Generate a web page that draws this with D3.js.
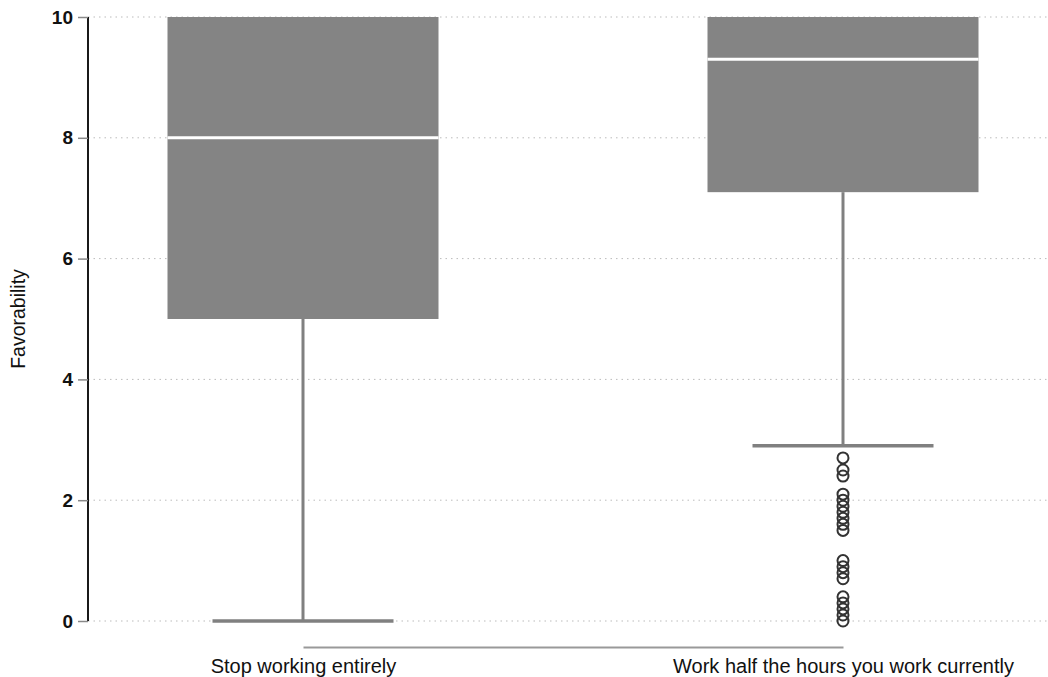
<!DOCTYPE html>
<html><head><meta charset="utf-8">
<script src="https://cdn.jsdelivr.net/npm/d3@7"></script>
<style>body{margin:0;background:#fff}svg{display:block}text{font-family:"Liberation Sans",Arial,sans-serif}</style>
</head><body>
<script>
const categories = ["Stop working entirely", "Work half the hours you work currently"];
const q1 = [5, 7.1];
const median = [8, 9.3];
const q3 = [10, 10];
const whiskerLow = [0, 2.9];
const whiskerHigh = [10, 10];
const outliers2 = [2.7, 2.5, 2.4, 2.1, 2.0, 1.9, 1.8, 1.7, 1.6, 1.5, 1.0, 0.9, 0.8, 0.7, 0.4, 0.3, 0.2, 0.1, 0.0];
const outliers = [[], outliers2];
const yTicks = [0, 2, 4, 6, 8, 10];

const W = 1048, H = 677;
const svg = d3.select("body").append("svg").attr("width", W).attr("height", H);
const y = d3.scaleLinear().domain([0, 10]).range([621, 17]);
const x = d3.scalePoint().domain(categories).range([303, 843]);
const boxW = 271, capW = 181;

// gridlines
svg.append("g").selectAll("line").data(yTicks).join("line")
  .attr("x1", 88).attr("x2", W).attr("y1", d => y(d)).attr("y2", d => y(d))
  .attr("stroke", "#bbb").attr("stroke-width", 1).attr("stroke-dasharray", "1.5,4");

const data = categories.map((c, i) => ({c, q1: q1[i], med: median[i], q3: q3[i], lo: whiskerLow[i], hi: whiskerHigh[i], out: outliers[i]}));
const g = svg.append("g").selectAll("g").data(data).join("g");
// whiskers
g.append("line").attr("x1", d => x(d.c)).attr("x2", d => x(d.c))
  .attr("y1", d => y(d.q1)).attr("y2", d => y(d.lo)).attr("stroke", "#808080").attr("stroke-width", 3);
g.append("line").attr("x1", d => x(d.c) - capW/2).attr("x2", d => x(d.c) + capW/2)
  .attr("y1", d => y(d.lo)).attr("y2", d => y(d.lo)).attr("stroke", "#808080").attr("stroke-width", 3.5);
// box
g.append("rect").attr("x", d => x(d.c) - boxW/2).attr("width", boxW)
  .attr("y", d => y(d.q3)).attr("height", d => y(d.q1) - y(d.q3)).attr("fill", "#848484");
g.append("line").attr("x1", d => x(d.c) - boxW/2).attr("x2", d => x(d.c) + boxW/2)
  .attr("y1", d => y(d.med)).attr("y2", d => y(d.med)).attr("stroke", "#fff").attr("stroke-width", 3);
// outliers
g.selectAll("circle").data(d => d.out.map(v => ({c: d.c, v}))).join("circle")
  .attr("cx", d => x(d.c)).attr("cy", d => y(d.v)).attr("r", 5.5)
  .attr("fill", "none").attr("stroke", "#333").attr("stroke-width", 2);

// y axis
const ya = svg.append("g").attr("transform", "translate(88,0)")
  .call(d3.axisLeft(y).tickValues(yTicks).tickSize(10).tickPadding(5));
ya.select(".domain").attr("stroke", "#000").attr("stroke-width", 1.8).attr("d", `M0,${y(10)}V${y(0)}`);
ya.selectAll(".tick line").attr("stroke", "#888").attr("stroke-width", 1.5);
ya.selectAll(".tick text").attr("font-size", 19).attr("font-weight", "bold").attr("fill", "#111")
  .attr("font-family", "'Liberation Sans', Arial, sans-serif");

svg.append("text").attr("transform", `translate(25,${y(5)}) rotate(-90)`).attr("text-anchor", "middle")
  .attr("font-size", 19.5).attr("fill", "#111").text("Favorability");

// x axis
const xa = svg.append("g").attr("transform", "translate(0,647)")
  .call(d3.axisBottom(x).tickSize(0).tickSizeOuter(0));
xa.select(".domain").attr("stroke", "#999").attr("stroke-width", 2);
xa.selectAll(".tick text").attr("y", 26).attr("dy", 0).attr("font-size", 20).attr("fill", "#111")
  .attr("font-family", "'Liberation Sans', Arial, sans-serif");
</script>
</body></html>
